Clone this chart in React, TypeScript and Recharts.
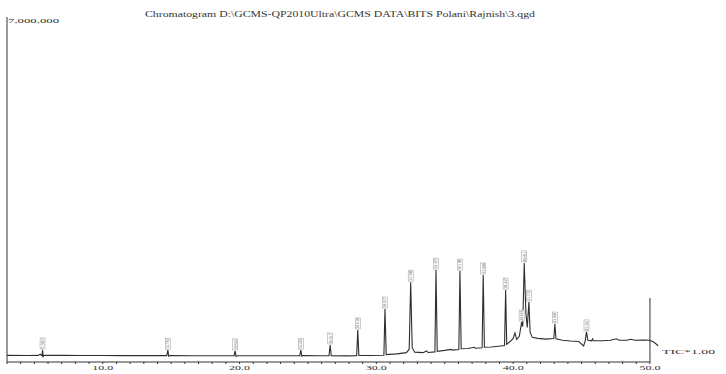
import React from 'react'
import { ComposedChart, Line, Scatter, XAxis, YAxis, ReferenceLine } from 'recharts'

// TIC trace (minutes, counts)
const retentionTimes = [
  3.0, 4.5, 5.3, 5.42, 5.5, 5.56, 5.6, 5.64, 5.7, 7.0, 8.5, 10.0, 11.5, 13.0,
  14.68, 14.76, 14.82, 14.9, 16.5, 18.0, 19.6, 19.68, 19.74, 19.82, 21.5, 23.0,
  24.4, 24.48, 24.55, 24.62, 25.8, 26.54, 26.62, 26.7, 27.8, 28.56, 28.64, 28.72,
  29.6, 30.55, 30.63, 30.72, 31.5, 32.2, 32.4, 32.51, 32.62, 32.8, 33.4, 33.68,
  33.78, 34.28, 34.36, 34.45, 35.0, 35.45, 35.55, 36.03, 36.11, 36.2, 36.7, 37.15,
  37.25, 37.73, 37.81, 37.9, 38.4, 38.9, 39.37, 39.45, 39.53, 39.8, 40.0, 40.13,
  40.26, 40.45, 40.62, 40.7, 40.81, 40.93, 41.03, 41.15, 41.24, 41.4, 41.8, 42.4,
  42.97, 43.05, 43.13, 43.6, 44.2, 44.8, 45.15, 45.26, 45.36, 45.46, 45.74, 45.8,
  45.86, 46.5, 47.1, 47.55, 47.75, 48.3, 48.6, 48.9, 49.5, 50.0, 50.3, 50.6,
]
const ticIntensity = [
  135000, 133000, 135000, 160000, 138000, 130000, 245000, 110000, 138000, 134000, 132000, 132000, 130000, 130000,
  130000, 240000, 118000, 130000, 128000, 128000, 128000, 225000, 115000, 128000, 128000, 128000,
  130000, 240000, 115000, 130000, 128000, 128000, 345000, 130000, 125000, 127000, 650000, 135000,
  132000, 138000, 1075000, 150000, 165000, 190000, 260000, 1620000, 290000, 200000, 190000, 225000,
  192000, 205000, 1865000, 215000, 235000, 255000, 240000, 255000, 1845000, 270000, 275000, 300000,
  280000, 290000, 1765000, 300000, 305000, 320000, 335000, 1460000, 360000, 420000, 480000, 590000,
  460000, 520000, 810000, 720000, 2010000, 1000000, 700000, 1215000, 600000, 500000, 480000, 465000,
  475000, 770000, 470000, 440000, 425000, 415000, 325000, 420000, 610000, 440000, 430000, 470000,
  430000, 430000, 440000, 470000, 440000, 440000, 460000, 440000, 445000, 440000, 400000, 330000,
]

// labelled peaks
const peakTimes = [5.6, 14.76, 19.68, 24.48, 26.62, 28.64, 30.63, 32.51, 34.36, 36.11, 37.81, 39.45, 40.62, 40.81, 41.15, 43.05, 45.36]
const peakHeights = [245000, 240000, 225000, 240000, 345000, 650000, 1075000, 1620000, 1865000, 1845000, 1765000, 1460000, 810000, 2010000, 1215000, 770000, 610000]
const peakLabels = ['5.583', '14.762', '19.683', '24.481', '26.617', '28.638', '30.627', '32.508', '34.357', '36.109', '37.808', '39.447', '40.618', '40.811', '41.152', '43.046', '45.361']

const minuteTicks = [
  3, 4, 5, 6, 7, 8, 9, 10, 11, 12, 13, 14, 15, 16, 17, 18, 19, 20, 21, 22, 23, 24, 25, 26,
  27, 28, 29, 30, 31, 32, 33, 34, 35, 36, 37, 38, 39, 40, 41, 42, 43, 44, 45, 46, 47, 48, 49, 50,
]
const labelledMinutes = [10, 20, 30, 40, 50]

const TITLE = 'Chromatogram D:\\GCMS-QP2010Ultra\\GCMS DATA\\BITS Polani\\Rajnish\\3.qgd'

const trace = retentionTimes.map((t, i) => ({ t, v: ticIntensity[i] }))
const peaks = peakTimes.map((t, i) => ({ t, v: peakHeights[i], label: peakLabels[i] }))

const FONT = '"Liberation Serif", "DejaVu Serif", serif'
const INK = '#333'

const XTick = ({ x, y, payload }: any) => {
  if (!labelledMinutes.includes(payload.value)) return null
  return (
    <text x={x} y={y + 4} textAnchor="middle" fontFamily={FONT} fontSize={7} fill={INK}
      textLength={21} lengthAdjust="spacingAndGlyphs">
      {payload.value.toFixed(1)}
    </text>
  )
}

const YTick = ({ y, payload }: any) => (
  <text x={8} y={y + 6} fontFamily={FONT} fontSize={7} fill={INK}
    textLength={51} lengthAdjust="spacingAndGlyphs">
    {payload.value.toLocaleString('en-US')}
  </text>
)

const PeakTag = ({ cx, cy, payload }: any) => {
  if (cx == null || cy == null) return <g />
  return (
    <g>
      <rect x={cx - 2.5} y={cy - 12} width={5} height={11} fill="#fff" stroke="#999" strokeWidth={0.5} />
      <text x={cx} y={cy - 1.5} transform={`rotate(-90 ${cx} ${cy - 1.5})`} dy="0.35em"
        fontFamily={FONT} fontSize={4} fill="#555" textLength={10} lengthAdjust="spacingAndGlyphs">
        {payload.label}
      </text>
    </g>
  )
}

export default function App() {
  return (
    <div style={{ position: 'absolute', left: 0, top: 0, width: 726, height: 374, background: '#fff' }}>
      <ComposedChart width={726} height={374} data={trace} margin={{ top: 17, right: 35, bottom: 0, left: 5 }}>
        <XAxis type="number" dataKey="t" domain={[3, 53]} ticks={minuteTicks} interval={0}
          axisLine={false} tickLine={{ stroke: INK }} tickSize={2} tickMargin={2} height={12} tick={<XTick />} />
        <YAxis type="number" domain={[0, 7000000]} ticks={[7000000]} width={2}
          axisLine={{ stroke: INK }} tickLine={false} tick={<YTick />} />
        <ReferenceLine segment={[{ x: 3, y: 0 }, { x: 50, y: 0 }]} stroke={INK} />
        <ReferenceLine segment={[{ x: 50, y: 0 }, { x: 50, y: 1300000 }]} stroke={INK} />
        <Line type="linear" dataKey="v" stroke="#2e2e2e" strokeWidth={1.1} dot={false} isAnimationActive={false} />
        <Scatter data={peaks} dataKey="v" shape={<PeakTag />} isAnimationActive={false} />
      </ComposedChart>
      <svg width={726} height={374} style={{ position: 'absolute', left: 0, top: 0, pointerEvents: 'none' }}>
        <text x={145} y={16.5} fontFamily={FONT} fontSize={7.5} fill={INK} textLength={390} lengthAdjust="spacingAndGlyphs">
          {TITLE}
        </text>
        <text x={662} y={354} fontFamily={FONT} fontSize={7} fill={INK} textLength={53} lengthAdjust="spacingAndGlyphs">
          TIC*1.00
        </text>
      </svg>
    </div>
  )
}
